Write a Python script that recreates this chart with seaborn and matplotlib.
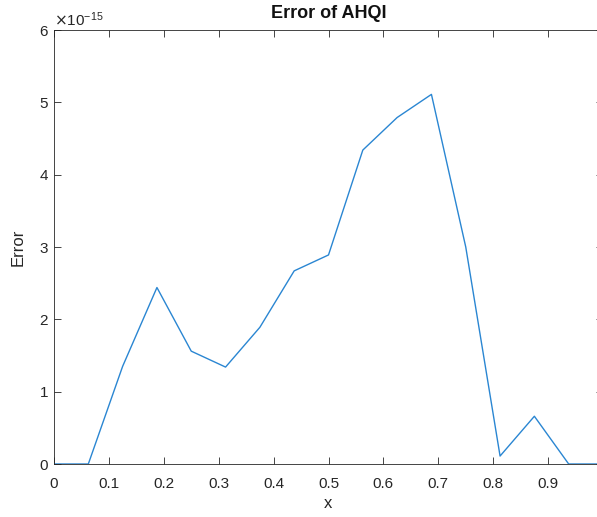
import numpy as np
import matplotlib
matplotlib.use("Agg")
import matplotlib.pyplot as plt
import seaborn as sns

# Error values at nodes x = k/16
x_vals = [0, 0.0625, 0.125, 0.1875, 0.25, 0.3125, 0.375, 0.4375, 0.5,
          0.5625, 0.625, 0.6875, 0.75, 0.8125, 0.875, 0.9375, 1.0]
err_vals = [0, 0, 1.35, 2.44, 1.56, 1.34, 1.89, 2.67, 2.89,
            4.34, 4.79, 5.11, 3.00, 0.11, 0.66, 0, 0]
err_scale = 1e-15
x_ticks = [0, 0.1, 0.2, 0.3, 0.4, 0.5, 0.6, 0.7, 0.8, 0.9, 1.0]
x_ticklabels = ['0', '0.1', '0.2', '0.3', '0.4', '0.5', '0.6', '0.7', '0.8', '0.9', '']
y_ticks = [0, 1, 2, 3, 4, 5, 6]

sns.set_style("ticks")
plt.rcParams['font.family'] = ['Liberation Sans', 'DejaVu Sans']
plt.rcParams['axes.unicode_minus'] = False

fig = plt.figure(figsize=(5.97, 5.17), dpi=100)
ax = fig.add_axes([54/597, 1 - 464/517, 549/597, 434/517])

err = np.array(err_vals) * err_scale
sns.lineplot(x=x_vals, y=err, ax=ax, color='#2a86d2', linewidth=1.0)

ax.set_xlim(0, 1)
ax.set_ylim(0, 6 * err_scale)
ax.set_xticks(x_ticks)
ax.set_xticklabels(x_ticklabels)
ax.set_yticks(np.array(y_ticks) * err_scale)
ax.ticklabel_format(axis='y', style='sci', scilimits=(0, 0), useMathText=True)
ax.yaxis.get_offset_text().set_fontsize(11)
ax.yaxis.get_offset_text().set_color('#262626')

for s in ax.spines.values():
    s.set_visible(True)
    s.set_color('#262626')
    s.set_linewidth(0.6)
ax.tick_params(direction='in', top=True, right=True, length=5, width=0.6,
               colors='#262626', labelsize=11, labelcolor='#262626')
ax.tick_params(axis='x', pad=9)

ax.set_title('Error of AHQI', fontsize=13, fontweight='bold', pad=9, color='#111111')
ax.set_xlabel('x', fontsize=12, color='#262626', labelpad=4)
ax.set_ylabel('Error', fontsize=12, color='#262626', labelpad=10)

fig.savefig('out.png', dpi=100)
